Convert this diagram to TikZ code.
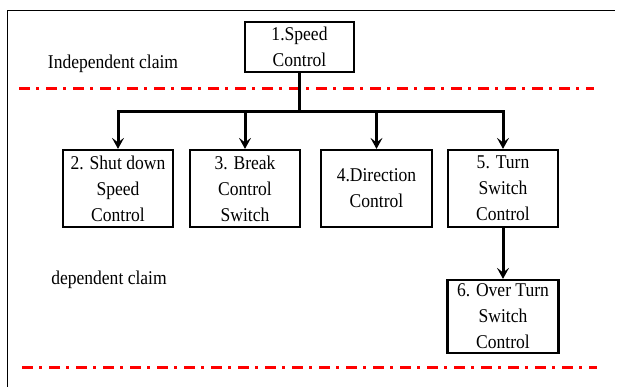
\documentclass[tikz,border=0pt]{standalone}
\usepackage{fontspec}
\setmainfont{Liberation Serif}
% slightly condensed serif for all texts
\newfontfamily\narrowserif[FakeStretch=0.9]{Liberation Serif}
\usetikzlibrary{arrows.meta}
\begin{document}
\begin{tikzpicture}[x=1pt,y=-1pt,
  claimbox/.style={draw=black,line width=2.2pt,align=center,inner sep=0pt,
    font=\narrowserif\fontsize{19.5}{26}\selectfont},
  claimlabel/.style={font=\narrowserif\fontsize{19.5}{24}\selectfont,inner sep=0pt,anchor=base},
  conn/.style={draw=black,line width=3pt},
  arr/.style={conn,-{Stealth[length=11pt,width=12pt,inset=4.5pt]}},
  divider/.style={draw=red,line width=3pt,dash pattern=on 11pt off 6pt on 3pt off 7pt},
  frame/.style={draw=black,line width=1.5pt}]
  \useasboundingbox (0,0) rectangle (619,387);
  % outer frame (left and top edges)
  \draw[frame] (7.5,387) -- (7.5,10.5) -- (615,10.5);
  % section labels
  \node[claimlabel] (indep) at (113,69) {Independent claim};
  \node[claimlabel] (dep) at (109,285) {dependent claim};
  % dividers
  \coordinate (d1a) at (19,89);  \coordinate (d1b) at (594,89);
  \coordinate (d2a) at (22,368); \coordinate (d2b) at (597,368);
  \draw[divider] (d1a) -- (d1b);
  \draw[divider] (d2a) -- (d2b);
  % claim boxes
  \node[claimbox,minimum width=109pt,minimum height=50pt] (c1) at (299.5,47) {1.Speed\\Control};
  \node[claimbox,minimum width=110pt,minimum height=77pt] (c2) at (118,188.5) {2. Shut down\\Speed\\Control};
  \node[claimbox,minimum width=110pt,minimum height=77pt] (c3) at (245,188.5) {3. Break\\Control\\Switch};
  \node[claimbox,minimum width=111pt,minimum height=77pt] (c4) at (376.5,188.5) {4.Direction\\Control};
  \node[claimbox,minimum width=110pt,minimum height=77pt] (c5) at (503,188.5) {5. Turn\\Switch\\Control};
  \node[claimbox,minimum width=111pt,minimum height=73pt] (c6) at (503,316.5) {6. Over Turn\\Switch\\Control};
  % tree connectors
  \coordinate (bus) at (300,112);
  \draw[conn] (c1.south) -- (c1.south |- bus);
  \draw[conn,line cap=rect] (c2.north |- bus) -- (c5.north |- bus);
  \draw[arr] (c2.north |- bus) -- (c2.north);
  \draw[arr] (c3.north |- bus) -- (c3.north);
  \draw[arr] (c4.north |- bus) -- (c4.north);
  \draw[arr] (c5.north |- bus) -- (c5.north);
  \draw[arr] (c5.south) -- (c6.north);
\end{tikzpicture}
\end{document}
